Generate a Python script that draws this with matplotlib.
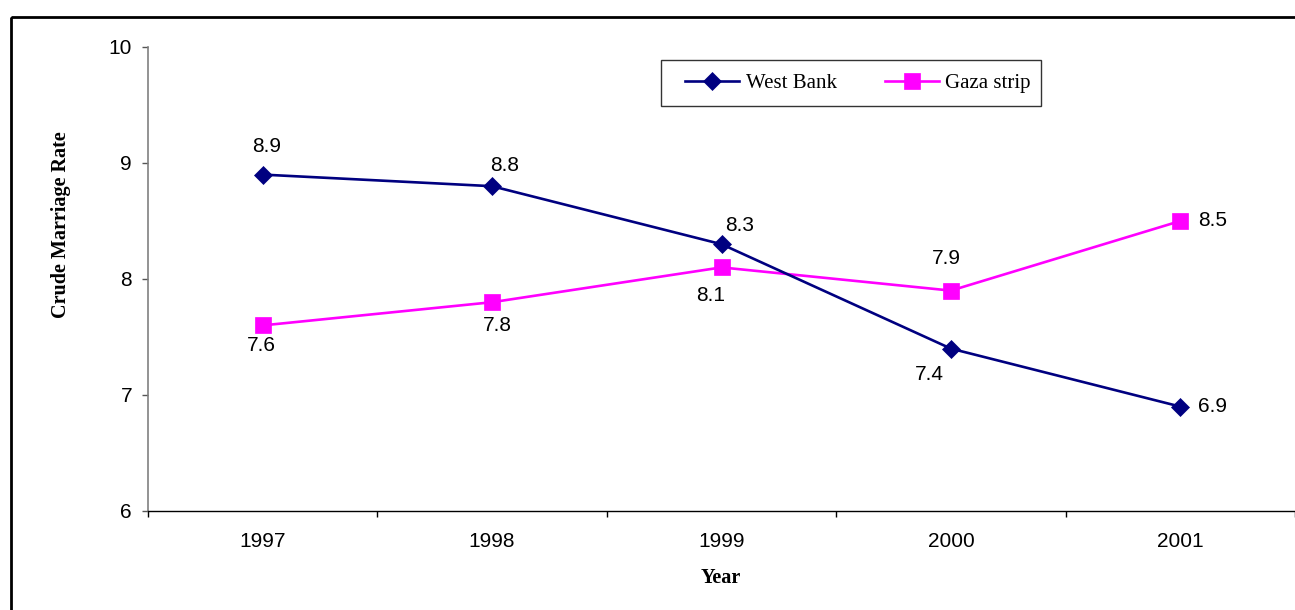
import matplotlib
matplotlib.use("Agg")
import matplotlib.pyplot as plt
from matplotlib.patches import Rectangle
from matplotlib.lines import Line2D

years = ["1997", "1998", "1999", "2000", "2001"]
west_bank = [8.9, 8.8, 8.3, 7.4, 6.9]
gaza = [7.6, 7.8, 8.1, 7.9, 8.5]
yticks = [6, 7, 8, 9, 10]

# label offsets in pixels (dx, dy up-positive)
wb_off = [(4, 28), (13, 21), (18, 19), (-22, -26), (32, 0)]
gz_off = [(-1, -20), (5, -23), (-11, -28), (-5, 32), (32, 1)]

W, H = 1295, 610
DPI = 100
fig = plt.figure(figsize=(W / DPI, H / DPI), dpi=DPI)
px = 72.0 / DPI  # points per pixel

sans = ["Liberation Sans", "DejaVu Sans"]
serif = ["Liberation Serif", "DejaVu Serif"]
FS = 15
NAVY = "#000080"
MAG = "#FF00FF"
LW = 1.9
DMS = 9.5
SMS = 11

# outer border
fig.patches.append(Rectangle((11 / W, 1 - 17 / H), 2, -2, transform=fig.transFigure,
                             fill=False, edgecolor="black", linewidth=2.0))

ax = fig.add_axes([148 / W, 1 - 511 / H, (W - 148) / W, (511 - 47) / H])
x = list(range(len(years)))

ax.plot(x, gaza, color=MAG, marker="s", markersize=SMS, markeredgewidth=0.5,
        linewidth=LW, zorder=3, clip_on=False, label="Gaza strip")
ax.plot(x, west_bank, color=NAVY, marker="D", markersize=DMS, markeredgewidth=0.5,
        linewidth=LW, zorder=4, clip_on=False, label="West Bank")

for i, v in enumerate(west_bank):
    dx, dy = wb_off[i]
    ax.annotate(f"{v:.1f}", (x[i], v), xytext=(dx * px, dy * px), textcoords="offset points",
                ha="center", va="center", fontsize=FS, family=sans)
for i, v in enumerate(gaza):
    dx, dy = gz_off[i]
    ax.annotate(f"{v:.1f}", (x[i], v), xytext=(dx * px, dy * px), textcoords="offset points",
                ha="center", va="center", fontsize=FS, family=sans)

ax.set_xlim(-0.5, len(years) - 0.5)
ax.set_ylim(6, 10)
ax.set_yticks(yticks)
ax.set_yticklabels([str(t) for t in yticks], fontsize=FS, family=sans)
ax.set_xticks(x)
ax.set_xticklabels(years, fontsize=FS, family=sans)
ax.set_xticks([i - 0.5 for i in range(len(years) + 1)], minor=True)
ax.tick_params(axis="x", which="major", length=0, pad=21 * px)
ax.tick_params(axis="x", which="minor", length=6 * px, direction="out", color="black", width=1)
ax.tick_params(axis="y", which="major", length=6 * px, direction="out", color="#555555",
               width=1, pad=10 * px)
for s in ["top", "right"]:
    ax.spines[s].set_visible(False)
ax.spines["left"].set_color("#808080")
ax.spines["left"].set_linewidth(1.2)
ax.spines["bottom"].set_color("black")
ax.spines["bottom"].set_linewidth(1.0)

fig.text(61 / W, 1 - 224.5 / H, "Crude Marriage Rate", rotation=90, ha="center", va="center",
         fontsize=14.5, fontweight="bold", family=serif)
fig.text(721 / W, 1 - 578 / H, "Year", ha="center", va="center",
         fontsize=14.5, fontweight="bold", family=serif)

# legend
fig.patches.append(Rectangle((661 / W, 1 - 106 / H), (1041 - 661) / W, (106 - 60) / H,
                             transform=fig.transFigure, fill=True, facecolor="white",
                             edgecolor="#333333", linewidth=1.0, zorder=5))
handles = [
    Line2D([], [], color=NAVY, marker="D", markersize=DMS, linewidth=LW, markeredgewidth=0.5),
    Line2D([], [], color=MAG, marker="s", markersize=SMS, linewidth=LW, markeredgewidth=0.5),
]
leg = fig.legend(handles, ["West Bank", "Gaza strip"], loc="center left",
                 bbox_to_anchor=(681 / W, 1 - 83 / H), bbox_transform=fig.transFigure,
                 ncol=2, frameon=False, prop={"family": serif, "size": FS},
                 handlelength=2.6, handletextpad=0.3, columnspacing=2.3, borderaxespad=0,
                 borderpad=0.2)
leg.set_zorder(6)

fig.savefig("out.png", dpi=DPI)
